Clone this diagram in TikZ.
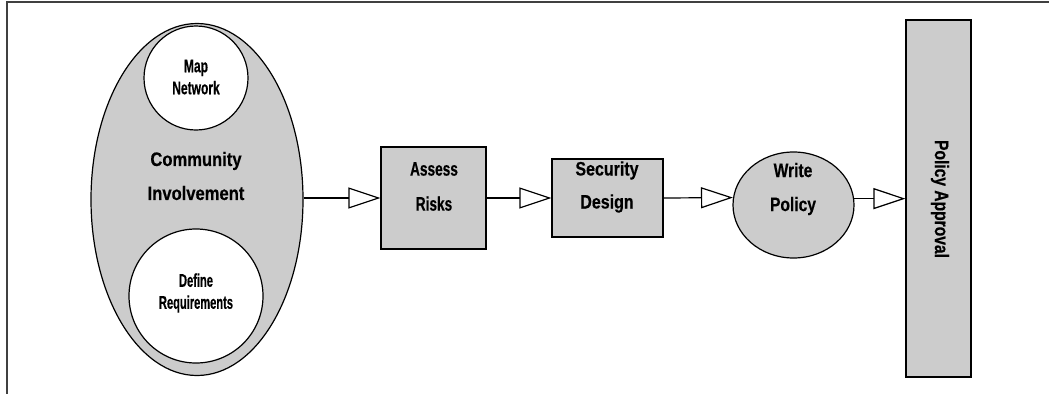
\documentclass[tikz,border=0pt]{standalone}
\usepackage{fontspec}
\setmainfont{Liberation Sans}
\newfontfamily\fmap[FakeStretch=0.65,FakeBold=0.4]{Liberation Sans}
\newfontfamily\fdef[FakeStretch=0.6,FakeBold=0.4]{Liberation Sans}
\newfontfamily\fcom[FakeStretch=0.85,FakeBold=0.4]{Liberation Sans}
\newfontfamily\fass[FakeStretch=0.7,FakeBold=0.4]{Liberation Sans}
\newfontfamily\fsec[FakeStretch=0.82,FakeBold=0.4]{Liberation Sans}
\newfontfamily\fwri[FakeStretch=0.8,FakeBold=0.4]{Liberation Sans}
\newfontfamily\fpol[FakeStretch=0.8,FakeBold=0.4]{Liberation Sans}
\usetikzlibrary{shapes.geometric,arrows.meta}
\definecolor{shade}{HTML}{CCCCCC}
\definecolor{framec}{HTML}{404040}
\tikzset{
  outline/.style={draw=black,line width=1.2pt},
  grayfill/.style={outline,fill=shade},
  whitefill/.style={outline,fill=white},
  oval/.style={ellipse,inner sep=0pt},
  boxnode/.style={rectangle,inner sep=0pt},
  lbl/.style={align=center,inner sep=0pt},
  conn/.style={line width=1.2pt,-{Triangle[length=32pt,width=21pt,fill=white,line width=1.2pt]}},
}
\begin{document}
\begin{tikzpicture}[x=1pt,y=-1pt]
\useasboundingbox (0,0) rectangle (1049,394);
% frame
\draw[framec,line width=2pt] (1049,2) -- (7,2) -- (7,394);
% community ellipse
\node[oval,grayfill,minimum width=212pt,minimum height=352pt] (ci) at (197,199.5) {};
\node[oval,whitefill,minimum size=104pt] (mn) at (196,78) {};
\node[oval,whitefill,minimum size=134pt] (dr) at (196,296) {};
\node[lbl,font=\fcom\bfseries\fontsize{19.5}{34}\selectfont] (ct) at (196,176) {Community\\Involvement};
\node[lbl,font=\fmap\bfseries\fontsize{18.5}{22}\selectfont] (mnt) at (196,77) {Map\\Network};
\node[lbl,font=\fdef\bfseries\fontsize{18.5}{22}\selectfont] (drt) at (196,293) {Define\\Requirements};
% boxes
\node[boxnode,grayfill,minimum width=105pt,minimum height=102pt] (ar) at (433.5,198) {};
\node[lbl,font=\fass\bfseries\fontsize{19.5}{35}\selectfont] (art) at (434,186.5) {Assess\\Risks};
\node[boxnode,grayfill,minimum width=111pt,minimum height=78pt] (sd) at (607.5,198) {};
\node[lbl,font=\fsec\bfseries\fontsize{19.5}{33}\selectfont] (sdt) at (607,187) {Security\\Design};
\node[oval,grayfill,minimum width=121pt,minimum height=106pt] (wp) at (793.5,205) {};
\node[lbl,font=\fwri\bfseries\fontsize{19.5}{34}\selectfont] (wpt) at (793,189) {Write\\Policy};
\node[boxnode,grayfill,minimum width=65pt,minimum height=357pt] (pa) at (938.5,198.5) {};
\node[lbl,font=\fpol\bfseries\fontsize{19.5}{24}\selectfont,rotate=-90] (pat) at (940,199) {Policy Approval};
% connectors
\draw[conn] (ci.east |- ar.west) -- (ar.west);
\draw[conn] (ar.east) -- (sd.west);
\draw[conn] (sd.east) -- (wp.173.35);
\draw[conn] (wp.6.65) -- (pa.west |- wp.6.65);
\end{tikzpicture}
\end{document}
